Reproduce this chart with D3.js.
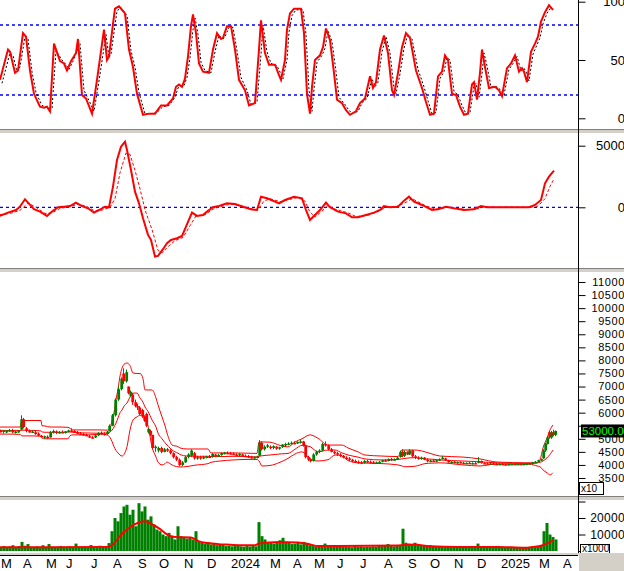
<!DOCTYPE html>
<html><head><meta charset="utf-8">
<script src="https://cdn.jsdelivr.net/npm/d3@7"></script>
<style>body{margin:0;background:#fff}svg{display:block}text{font-family:"Liberation Sans",Arial,sans-serif}</style>
</head><body><svg id="c" width="624" height="571"></svg>
<script>
// ---- x axis (trading-session index) ----
const monthLabels = ["M","A","M","J","J","A","S","O","N","D","2024","M","A","M","J","J","A","S","O","N","D","2025","M","A"];
const monthDays   = [0,22,45,65,90,112,137,158,183,206,230,269,292,313,336,359,383,407,429,453,476,500,538,562];

// ---- stochastic %K and %D ----
const stochK = [[0,33],[8,59],[10,57],[15,39],[18,41],[23,73],[26,70],[30,41],[34,21],[40,10],[44,9],[47,10],[50,6],[54,64],[60,49],[64,47],[67,41],[71,49],[76,56],[78,68],[82,20],[86,17],[92,4],[97,33],[104,76],[107,50],[109,53],[113,81],[115,94],[119,96],[125,90],[129,59],[133,44],[137,21],[143,3],[149,4],[155,4],[161,11],[167,11],[173,17],[176,27],[179,29],[182,27],[185,34],[188,53],[191,79],[193,89],[196,73],[199,47],[203,40],[209,39],[213,59],[217,73],[221,68],[223,69],[227,79],[231,79],[235,59],[239,33],[245,24],[249,11],[255,13],[259,59],[261,84],[265,56],[269,46],[275,46],[279,37],[281,33],[285,50],[287,76],[290,90],[294,94],[301,94],[304,73],[307,21],[310,4],[312,27],[315,50],[320,54],[323,61],[326,77],[330,67],[334,39],[337,16],[342,13],[346,7],[350,3],[356,6],[360,13],[365,17],[370,36],[373,26],[376,31],[380,59],[384,71],[388,56],[392,24],[394,20],[398,39],[402,61],[406,73],[410,69],[416,41],[422,26],[426,14],[430,3],[434,4],[438,36],[442,40],[445,54],[448,50],[452,21],[456,20],[460,10],[464,3],[468,4],[472,29],[474,31],[477,16],[480,39],[482,59],[485,44],[489,26],[495,27],[499,24],[502,19],[507,43],[511,47],[515,54],[519,40],[522,43],[524,40],[527,31],[531,57],[535,64],[538,70],[541,83],[545,91],[549,97],[553,93]];
const stochD = [[2,30],[10,56],[13,54],[17,40],[20,44],[25,70],[28,68],[32,40],[36,22],[42,11],[49,9],[52,8],[56,58],[62,50],[66,46],[69,42],[73,49],[78,60],[80,64],[84,24],[88,17],[94,6],[99,32],[106,72],[109,52],[111,55],[115,80],[117,92],[121,95],[127,88],[131,58],[135,44],[139,22],[145,4],[151,4],[157,5],[163,10],[169,11],[175,18],[178,26],[181,28],[184,28],[187,35],[190,52],[193,76],[195,86],[198,72],[201,48],[205,41],[211,39],[215,57],[219,71],[223,68],[225,70],[229,78],[233,78],[237,58],[241,35],[247,24],[251,12],[257,14],[261,55],[263,80],[267,57],[271,47],[277,45],[281,38],[283,34],[287,50],[289,74],[292,88],[296,93],[303,93],[306,72],[309,24],[312,6],[314,25],[317,48],[322,54],[325,60],[328,75],[332,66],[336,40],[339,18],[344,13],[348,8],[352,4],[358,6],[362,13],[367,17],[372,34],[375,27],[378,31],[382,57],[386,70],[390,56],[394,26],[396,21],[400,38],[404,60],[408,72],[412,68],[418,42],[424,27],[428,15],[432,4],[436,5],[440,34],[444,40],[447,52],[450,50],[454,23],[458,20],[462,11],[466,4],[470,5],[474,28],[476,30],[479,18],[482,38],[484,56],[487,45],[491,27],[497,27],[501,24],[504,20],[509,42],[513,47],[517,53],[521,41],[524,43],[526,40],[529,32],[533,55],[537,63],[540,69],[543,81],[547,90],[551,95],[553,93]];
const stochLevels = [80, 20];

// ---- MACD and signal ----
const macdLine = [[0,-700],[8,-430],[16,-220],[20,50],[25,650],[28,380],[34,-160],[40,-350],[47,-700],[52,-350],[58,0],[64,50],[70,100],[76,380],[82,100],[88,-80],[94,-430],[99,-220],[105,50],[109,0],[113,1680],[117,3840],[121,4920],[125,5320],[127,4650],[131,3030],[135,1270],[139,320],[143,-890],[148,-2240],[151,-2650],[155,-4000],[158,-3950],[163,-3400],[167,-2920],[171,-2650],[177,-2510],[182,-2320],[186,-1570],[192,-430],[197,-700],[203,-620],[207,-350],[213,0],[219,100],[227,320],[235,270],[243,50],[251,-160],[257,-220],[261,860],[267,730],[275,460],[279,320],[285,590],[294,860],[302,730],[306,-220],[310,-1030],[314,-700],[320,-220],[326,380],[330,0],[338,-350],[346,-490],[352,-810],[358,-810],[366,-620],[374,-430],[380,-220],[384,100],[390,0],[398,50],[404,540],[409,860],[414,460],[422,190],[432,-220],[438,-160],[446,50],[454,-80],[464,-220],[474,-160],[481,100],[487,0],[501,0],[517,0],[529,0],[535,190],[541,590],[545,1950],[549,2490],[554,2970]];
const macdSignal = [[0,-600],[10,-500],[20,-250],[28,350],[36,0],[45,-500],[52,-450],[60,-100],[70,50],[78,250],[86,100],[95,-300],[101,-250],[110,0],[115,700],[120,2800],[126,4400],[130,4300],[135,3000],[140,1500],[145,-200],[152,-1800],[158,-3500],[162,-3700],[168,-3200],[175,-2700],[183,-2450],[190,-1500],[196,-700],[205,-600],[213,-150],[220,50],[230,250],[240,150],[250,-100],[258,-200],[264,500],[270,700],[280,450],[290,650],[298,800],[305,500],[310,-400],[315,-800],[322,-300],[328,150],[335,-150],[348,-450],[356,-750],[368,-650],[378,-350],[386,0],[395,20],[406,400],[412,700],[418,450],[426,100],[436,-150],[448,0],[458,-100],[468,-200],[478,-100],[485,50],[495,0],[530,0],[538,100],[545,700],[550,1700],[554,2300]];

// ---- price candles [day, open, high, low, close] (x10) ----
const candles = [[0,5300,5350,5250,5280],[3,5280,5330,5200,5320],[6,5250,5320,5220,5300],[9,5300,5380,5260,5330],[12,5330,5380,5220,5250],[15,5250,5300,5200,5280],[18,5260,5320,5230,5300],[21,5350,5900,5350,5750],[23,5750,5800,5400,5450],[26,5400,5450,5250,5300],[29,5300,5350,5230,5250],[32,5250,5320,5220,5280],[35,5250,5300,5150,5180],[38,5200,5250,5100,5120],[41,5120,5150,5050,5080],[44,5050,5120,5000,5100],[47,5080,5130,5000,5050],[50,5050,5300,5050,5250],[53,5250,5350,5200,5300],[56,5280,5320,5180,5220],[59,5220,5300,5200,5260],[62,5260,5320,5220,5240],[65,5240,5300,5200,5280],[68,5280,5350,5250,5320],[71,5320,5400,5280,5300],[74,5300,5330,5220,5250],[77,5250,5300,5180,5200],[80,5200,5260,5150,5180],[83,5180,5220,5120,5150],[86,5150,5200,5100,5120],[89,5100,5150,5030,5060],[92,5060,5100,5000,5050],[95,5050,5150,5030,5130],[98,5130,5250,5100,5230],[101,5230,5280,5150,5200],[104,5200,5250,5120,5180],[107,5180,5300,5150,5280],[109,5300,5550,5280,5500],[112,5500,5950,5480,5900],[115,5900,6550,5850,6500],[118,6500,7000,6450,6900],[121,6900,7350,6850,7300],[123,7500,7700,7100,7200],[126,7200,7650,7150,7550],[128,7000,7000,6700,6750],[130,6650,6850,6600,6800],[132,6700,6750,6300,6400],[135,6400,6500,6200,6250],[137,6250,6350,6100,6200],[139,6200,6250,5900,5950],[142,6100,6150,5800,5850],[144,5850,5900,5650,5700],[146,5950,6000,5450,5500],[148,5250,5400,5200,5380],[150,5300,5350,5100,5150],[152,5150,5150,4600,4650],[155,4650,4750,4500,4700],[158,4550,4700,4480,4650],[161,4650,4700,4450,4500],[164,4500,4650,4480,4600],[167,4600,4650,4500,4550],[170,4550,4600,4400,4450],[173,4450,4480,4250,4300],[176,4300,4350,4150,4200],[179,4200,4250,3950,4000],[182,4000,4150,3950,4100],[185,4100,4350,4080,4300],[188,4300,4450,4250,4400],[191,4350,4600,4300,4550],[194,4450,4500,4200,4250],[197,4250,4350,4200,4300],[200,4300,4350,4200,4250],[203,4250,4350,4220,4300],[206,4300,4350,4250,4320],[209,4320,4380,4270,4300],[212,4300,4450,4280,4420],[215,4400,4420,4300,4350],[218,4350,4420,4300,4380],[221,4380,4480,4350,4450],[224,4450,4500,4400,4470],[227,4460,4520,4420,4450],[230,4450,4500,4400,4430],[233,4430,4480,4380,4400],[236,4400,4450,4350,4380],[239,4380,4450,4330,4420],[242,4400,4430,4330,4350],[245,4350,4400,4300,4330],[248,4330,4380,4270,4300],[251,4300,4350,4250,4280],[254,4280,4320,4230,4300],[257,4300,4350,4250,4320],[259,4350,4950,4350,4850],[261,4850,4900,4550,4600],[264,4600,4750,4550,4700],[267,4700,4800,4650,4750],[270,4700,4750,4600,4650],[273,4650,4750,4600,4720],[276,4700,4720,4580,4620],[279,4620,4700,4580,4680],[282,4680,4800,4650,4780],[285,4780,4850,4700,4800],[288,4800,4870,4750,4820],[291,4820,4900,4780,4850],[294,4850,4900,4780,4820],[297,4820,4900,4800,4880],[300,4880,4950,4820,4900],[303,4900,4920,4700,4750],[305,4750,4780,4250,4300],[308,4300,4350,4150,4200],[310,4200,4250,4100,4150],[313,4150,4450,4130,4400],[316,4400,4550,4350,4500],[319,4500,4600,4450,4550],[322,4550,4850,4520,4800],[325,4800,4900,4700,4750],[328,4750,4780,4550,4600],[331,4600,4650,4480,4500],[334,4500,4550,4400,4450],[337,4450,4500,4350,4400],[340,4400,4450,4300,4350],[343,4350,4380,4250,4280],[346,4280,4330,4200,4250],[349,4250,4300,4150,4200],[352,4200,4230,4100,4150],[355,4150,4200,4080,4120],[358,4120,4170,4050,4100],[361,4100,4150,4030,4080],[364,4080,4200,4050,4150],[367,4150,4200,4080,4120],[370,4120,4170,4070,4100],[373,4100,4150,4050,4090],[376,4090,4130,4050,4100],[379,4100,4150,4060,4120],[382,4120,4200,4100,4180],[385,4180,4220,4120,4150],[388,4150,4250,4130,4230],[391,4230,4270,4150,4200],[394,4200,4250,4160,4220],[397,4220,4300,4200,4280],[400,4300,4550,4280,4500],[402,4500,4600,4300,4350],[404,4350,4550,4300,4500],[407,4500,4520,4380,4400],[409,4400,4600,4380,4550],[412,4550,4580,4300,4330],[415,4330,4380,4220,4280],[418,4280,4330,4200,4250],[421,4250,4320,4200,4280],[424,4280,4300,4180,4200],[427,4200,4250,4100,4150],[430,4150,4200,4100,4170],[433,4170,4220,4120,4140],[436,4140,4200,4100,4180],[439,4180,4250,4150,4220],[442,4220,4350,4200,4280],[445,4250,4280,4150,4180],[448,4180,4200,4080,4100],[451,4100,4150,4050,4120],[454,4120,4150,4060,4090],[457,4090,4130,4050,4110],[460,4110,4140,4060,4080],[463,4080,4120,4030,4060],[466,4060,4100,4030,4080],[469,4080,4110,4040,4060],[472,4060,4100,4030,4070],[475,4070,4110,4030,4050],[478,4080,4300,4060,4150],[481,4150,4170,4050,4070],[484,4070,4100,4030,4060],[487,4060,4100,4030,4050],[490,4050,4080,4020,4060],[493,4060,4080,4010,4040],[496,4040,4070,4020,4030],[499,4030,4060,4010,4040],[502,4040,4060,4000,4030],[505,4030,4050,3970,3990],[508,4020,4050,4000,4030],[511,4030,4050,4010,4040],[514,4040,4050,4010,4030],[517,4030,4050,4000,4040],[520,4040,4060,4010,4030],[523,4030,4050,4000,4040],[526,4040,4060,4010,4050],[529,4050,4080,4020,4070],[532,4070,4120,4050,4100],[535,4100,4150,4070,4120],[538,4120,4200,4100,4180],[541,4180,4250,4150,4220],[543,4250,4600,4230,4550],[545,4550,4850,4500,4800],[547,4800,5100,4780,5050],[549,5250,5300,5000,5050],[551,5050,5300,5000,5250],[553,5250,5350,5100,5150],[555,5150,5320,5100,5300]];
const lastPrice = 53000;

// ---- Bollinger bands [day, upper, middle, lower] ----
const bands = [[0,5450,5320,5180],[10,5450,5320,5180],[20,5450,5320,5170],[22,5700,5330,5110],[33,5700,5320,5110],[41,5700,5300,5100],[42,5500,5260,5030],[45,5490,5250,5000],[50,5450,5250,5000],[60,5450,5250,5000],[68,5440,5260,5000],[70,5400,5260,5120],[73,5340,5250,5150],[80,5340,5230,5150],[90,5340,5220,5150],[100,5340,5210,5180],[107,5330,5220,5150],[110,5400,5260,5050],[112,5700,5330,4900],[114,6000,5450,4700],[116,6500,5600,4550],[118,6900,5800,4460],[120,7400,6000,4380],[122,7700,6100,4340],[124,7850,6250,4400],[127,7900,6370,4700],[130,7800,6600,5340],[133,7520,6750,5720],[137,7500,6750,5840],[140,7500,6560,5900],[143,7300,6400,5900],[145,6870,6220,5720],[148,6870,6050,5500],[152,6870,5720,4690],[156,6560,5450,4300],[158,6300,5220,4110],[162,5840,5000,4000],[165,5500,4850,4050],[167,5220,4760,4110],[170,4900,4650,4050],[172,4760,4570,4000],[178,4700,4450,3930],[180,4650,4400,3920],[187,4610,4340,3940],[195,4610,4330,3990],[208,4610,4330,4050],[211,4460,4320,4100],[220,4460,4320,4150],[233,4460,4330,4190],[247,4450,4320,4210],[257,4440,4310,4210],[259,4880,4330,4150],[262,4880,4350,3960],[270,4870,4380,3980],[280,4750,4420,4100],[288,4690,4440,4250],[295,4880,4600,4420],[302,5000,4750,4500],[310,5150,4700,4230],[318,5020,4500,4150],[328,4760,4570,4200],[335,4760,4570,4380],[342,4760,4460,4340],[348,4650,4380,4170],[358,4500,4300,4080],[365,4380,4230,4070],[382,4340,4190,4050],[398,4320,4210,4000],[402,4570,4230,3960],[405,4570,4250,3930],[415,4570,4280,3950],[425,4500,4230,4050],[432,4420,4220,4070],[440,4340,4190,4080],[463,4300,4150,4000],[480,4230,4120,3960],[497,4110,4080,4040],[530,4080,4060,4030],[537,4080,4080,3960],[540,4200,4100,3930],[543,4650,4150,3810],[547,5030,4270,3700],[550,5340,4400,3620],[553,5530,4570,3700]];

// ---- volume (x1000) and its moving average ----
const volume = [[0,2500],[3,3000],[6,2200],[9,2800],[12,3500],[15,2400],[18,3000],[21,5500],[24,3200],[27,4200],[30,2600],[33,2300],[36,2800],[39,2500],[42,3500],[45,2400],[48,4200],[51,2600],[54,2200],[57,2500],[60,3000],[63,2300],[66,2500],[69,2800],[72,2200],[75,4500],[78,2600],[81,2400],[84,2800],[87,2300],[90,3600],[93,2500],[96,2800],[99,3200],[102,2600],[105,3000],[108,4800],[111,12000],[114,20000],[117,18000],[120,23000],[123,27000],[126,28000],[129,22000],[132,25000],[135,15000],[138,29000],[141,24000],[144,27000],[147,19000],[150,21000],[153,16000],[156,13000],[159,12000],[162,10000],[165,9000],[168,11000],[171,8500],[174,7000],[177,15000],[180,9000],[183,8000],[186,7500],[189,8500],[192,7000],[195,12000],[198,6000],[201,5000],[204,4500],[207,5500],[210,4000],[213,4800],[216,3500],[219,4200],[222,3800],[225,3000],[228,3200],[231,2800],[234,3000],[237,3300],[240,2800],[243,2600],[246,3000],[249,2700],[252,3200],[255,2800],[258,17500],[261,9000],[264,7000],[267,5500],[270,4800],[273,4500],[276,5000],[279,6500],[282,8000],[285,5500],[288,5000],[291,4200],[294,4500],[297,5000],[300,4000],[303,5500],[306,4500],[309,3500],[312,3000],[315,2800],[318,2600],[321,3000],[324,4500],[327,3000],[330,2800],[333,2600],[336,2500],[339,2800],[342,2400],[345,2600],[348,2500],[351,2300],[354,3000],[357,2500],[360,2700],[363,2400],[366,2600],[369,2500],[372,2800],[375,2600],[378,3200],[381,3000],[384,3500],[387,4200],[390,3000],[393,2800],[396,3200],[399,3000],[402,13500],[405,5000],[408,4500],[411,4000],[414,5000],[417,3500],[420,3000],[423,3200],[426,2800],[429,3500],[432,2600],[435,2400],[438,2500],[441,2700],[444,2300],[447,2500],[450,2200],[453,2400],[456,2300],[459,2100],[462,2500],[465,2300],[468,2200],[471,2400],[474,2300],[477,4500],[480,2600],[483,2300],[486,2200],[489,2400],[492,2100],[495,2000],[498,2300],[501,2100],[504,2000],[507,2200],[510,1900],[513,2100],[516,2000],[519,2200],[522,1900],[525,2100],[528,2300],[531,2600],[534,2800],[537,3000],[540,3500],[543,12000],[546,17000],[549,10000],[552,8500],[555,7000]];
const volumeMA = [[0,2200],[50,2200],[108,2500],[113,4000],[120,9000],[127,13000],[134,16000],[139,17300],[145,18000],[151,16500],[159,13700],[167,10000],[175,8500],[191,8200],[199,5800],[207,4800],[223,4000],[239,3500],[255,3500],[259,4500],[279,5500],[298,5200],[310,4000],[318,3000],[398,3300],[414,3900],[430,2900],[458,2500],[498,2500],[525,2000],[533,2500],[541,3200],[553,6300]];

// ================= drawing =================
const svg = d3.select("#c");
const W = 624, AX = 578;
const x = d3.scaleLinear().domain([0, 578]).range([0, AX]);
const RED = "#ff0000", GREEN = "#008000", BLUE = "#0000ff";

const panels = {
  stoch: {top: 0, bottom: 129, y: d3.scaleLinear().domain([0, 100]).range([118.3, 1.7])},
  macd:  {top: 134, bottom: 268, y: d3.scaleLinear().domain([-5000, 5000]).range([268.9, 145.7])},
  price: {top: 273, bottom: 496, y: d3.scaleLinear().domain([3500, 11000]).range([478, 282])},
  vol:   {top: 501, bottom: 553, y: d3.scaleLinear().domain([0, 20000]).range([551, 518])}
};
Object.entries(panels).forEach(([k, p]) => {
  svg.append("clipPath").attr("id", "clip-" + k).append("rect")
    .attr("x", 0).attr("y", p.top).attr("width", AX).attr("height", p.bottom - p.top);
  p.g = svg.append("g").attr("clip-path", `url(#clip-${k})`);
});

// separators
[[129,134],[268,273],[496,501]].forEach(([a,b]) => {
  svg.append("rect").attr("x",0).attr("y",a).attr("width",W).attr("height",b-a).attr("fill","#d4d0c8");
  svg.append("line").attr("x1",0).attr("x2",W).attr("y1",a+0.5).attr("y2",a+0.5).attr("stroke","#808080");
  svg.append("line").attr("x1",0).attr("x2",W).attr("y1",b-0.5).attr("y2",b-0.5).attr("stroke","#ffffff");
});

// ---- stochastic ----
{
  const p = panels.stoch;
  const ln = d3.line().x(d => x(d[0])).y(d => p.y(d[1]));
  stochLevels.forEach(v => p.g.append("line").attr("x1",0).attr("x2",AX)
    .attr("y1",p.y(v)).attr("y2",p.y(v)).attr("stroke",BLUE).attr("stroke-width",1.3).attr("stroke-dasharray","3,3"));
  p.g.append("path").datum(stochD).attr("d", ln).attr("fill","none").attr("stroke","#000").attr("stroke-width",1).attr("stroke-dasharray","2,2");
  p.g.append("path").datum(stochK).attr("d", ln).attr("fill","none").attr("stroke",RED).attr("stroke-width",2);
}
// ---- MACD ----
{
  const p = panels.macd;
  const ln = d3.line().x(d => x(d[0])).y(d => p.y(d[1]));
  p.g.append("line").attr("x1",0).attr("x2",AX).attr("y1",p.y(0)).attr("y2",p.y(0))
    .attr("stroke",BLUE).attr("stroke-width",1.3).attr("stroke-dasharray","3,3");
  p.g.append("path").datum(macdSignal).attr("d", ln).attr("fill","none").attr("stroke",RED).attr("stroke-width",1).attr("stroke-dasharray","3,2");
  p.g.append("path").datum(macdLine).attr("d", ln).attr("fill","none").attr("stroke",RED).attr("stroke-width",2);
}
// ---- price ----
{
  const p = panels.price;
  [1,2,3].forEach(i => {
    const ln = d3.line().x(d => x(d[0])).y(d => p.y(d[i])).curve(d3.curveMonotoneX);
    p.g.append("path").datum(bands).attr("d", ln).attr("fill","none").attr("stroke",RED).attr("stroke-width",1);
  });
  const c = p.g.selectAll("g.cd").data(candles).join("g");
  c.append("line").attr("x1", d => x(d[0]) + 0.5).attr("x2", d => x(d[0]) + 0.5)
    .attr("y1", d => p.y(d[2])).attr("y2", d => p.y(d[3]))
    .attr("stroke", d => d[4] >= d[1] ? GREEN : RED);
  c.append("rect").attr("x", d => x(d[0]) - 0.7).attr("width", 2.8)
    .attr("y", d => p.y(Math.max(d[1], d[4])))
    .attr("height", d => Math.max(1.5, Math.abs(p.y(d[1]) - p.y(d[4]))))
    .attr("fill", d => d[4] >= d[1] ? GREEN : RED);
}
// ---- volume ----
{
  const p = panels.vol;
  p.g.selectAll("rect.v").data(volume).join("rect")
    .attr("x", d => x(d[0]) - 0.5).attr("width", 3)
    .attr("y", d => p.y(d[1])).attr("height", d => p.y(0) - p.y(d[1]))
    .attr("fill", GREEN);
  p.g.append("path").datum(volumeMA).attr("d", d3.line().x(d => x(d[0])).y(d => p.y(d[1])).curve(d3.curveMonotoneX))
    .attr("fill","none").attr("stroke",RED).attr("stroke-width",2);
}

// ---- right axes ----
svg.append("line").attr("x1",AX+0.5).attr("x2",AX+0.5).attr("y1",0).attr("y2",555).attr("stroke","#000");
function rightAxis(p, minorStep, majorStep, labels, fs, ls) {
  const [y0, y1] = [p.y.invert(p.bottom), p.y.invert(p.top)];
  const lo = Math.min(y0, y1), hi = Math.max(y0, y1);
  const minor = d3.range(Math.ceil(lo / minorStep) * minorStep, hi, minorStep);
  const major = minor.filter(v => Math.abs(v % majorStep) < 1e-6);
  const g = svg.append("g").attr("transform", `translate(${AX + 0.5},0)`);
  g.call(d3.axisRight(p.y).tickValues(minor).tickSize(4).tickFormat(""));
  g.call(d3.axisRight(p.y).tickValues(major).tickSize(7).tickFormat(""));
  g.selectAll(".domain").remove();
  labels.forEach(v => svg.append("text").attr("x", 625).attr("y", p.y(v) + fs * 0.36)
    .attr("text-anchor","end").attr("font-size",fs).attr("letter-spacing", ls).attr("fill","#000").text(v));
}
rightAxis(panels.stoch, 10, 50, [100, 50, 0], 13, 0);
rightAxis(panels.macd, 1000, 5000, [5000, 0], 13, 0);
rightAxis(panels.price, 100, 500, [11000,10500,10000,9500,9000,8500,8000,7500,7000,6500,6000,5000,4500,4000,3500], 11, 0.6);
rightAxis(panels.vol, 2500, 10000, [20000, 10000], 12, 0.3);

// price tag
{
  const p = panels.price, yy = p.y(lastPrice / 10);
  svg.append("rect").attr("x", 581).attr("y", yy - 6.5).attr("width", 44).attr("height", 13).attr("fill", "#000");
  svg.append("text").attr("x", 582).attr("y", yy + 4).attr("font-size", 11.5).attr("fill", "#00ff00")
    .text(d3.format(".2f")(lastPrice));
}
// unit boxes
function unitBox(xx, yy, w, h, t) {
  svg.append("rect").attr("x", xx + 0.5).attr("y", yy + 0.5).attr("width", w).attr("height", h).attr("fill","#fff").attr("stroke","#000");
  svg.append("text").attr("x", xx + 2).attr("y", yy + h - 2).attr("font-size", 10).attr("fill","#000").text(t);
}
unitBox(579, 482, 24, 12, "x10");
unitBox(580, 544, 29, 10, "x1000");

// ---- bottom time axis ----
svg.append("rect").attr("x", 0).attr("y", 553).attr("width", W).attr("height", 2).attr("fill","#d4d0c8");
svg.append("line").attr("x1",0).attr("x2",AX).attr("y1",555.5).attr("y2",555.5).attr("stroke","#000");
svg.append("rect").attr("x", AX + 1).attr("y", 555).attr("width", W - AX).attr("height", 16).attr("fill","#d4d0c8");
svg.append("g").selectAll("text").data(monthLabels).join("text")
  .attr("x", (d, i) => x(monthDays[i]) + 1).attr("y", 568)
  .attr("font-size", 13).attr("fill", "#000").text(d => d);
</script></body></html>
